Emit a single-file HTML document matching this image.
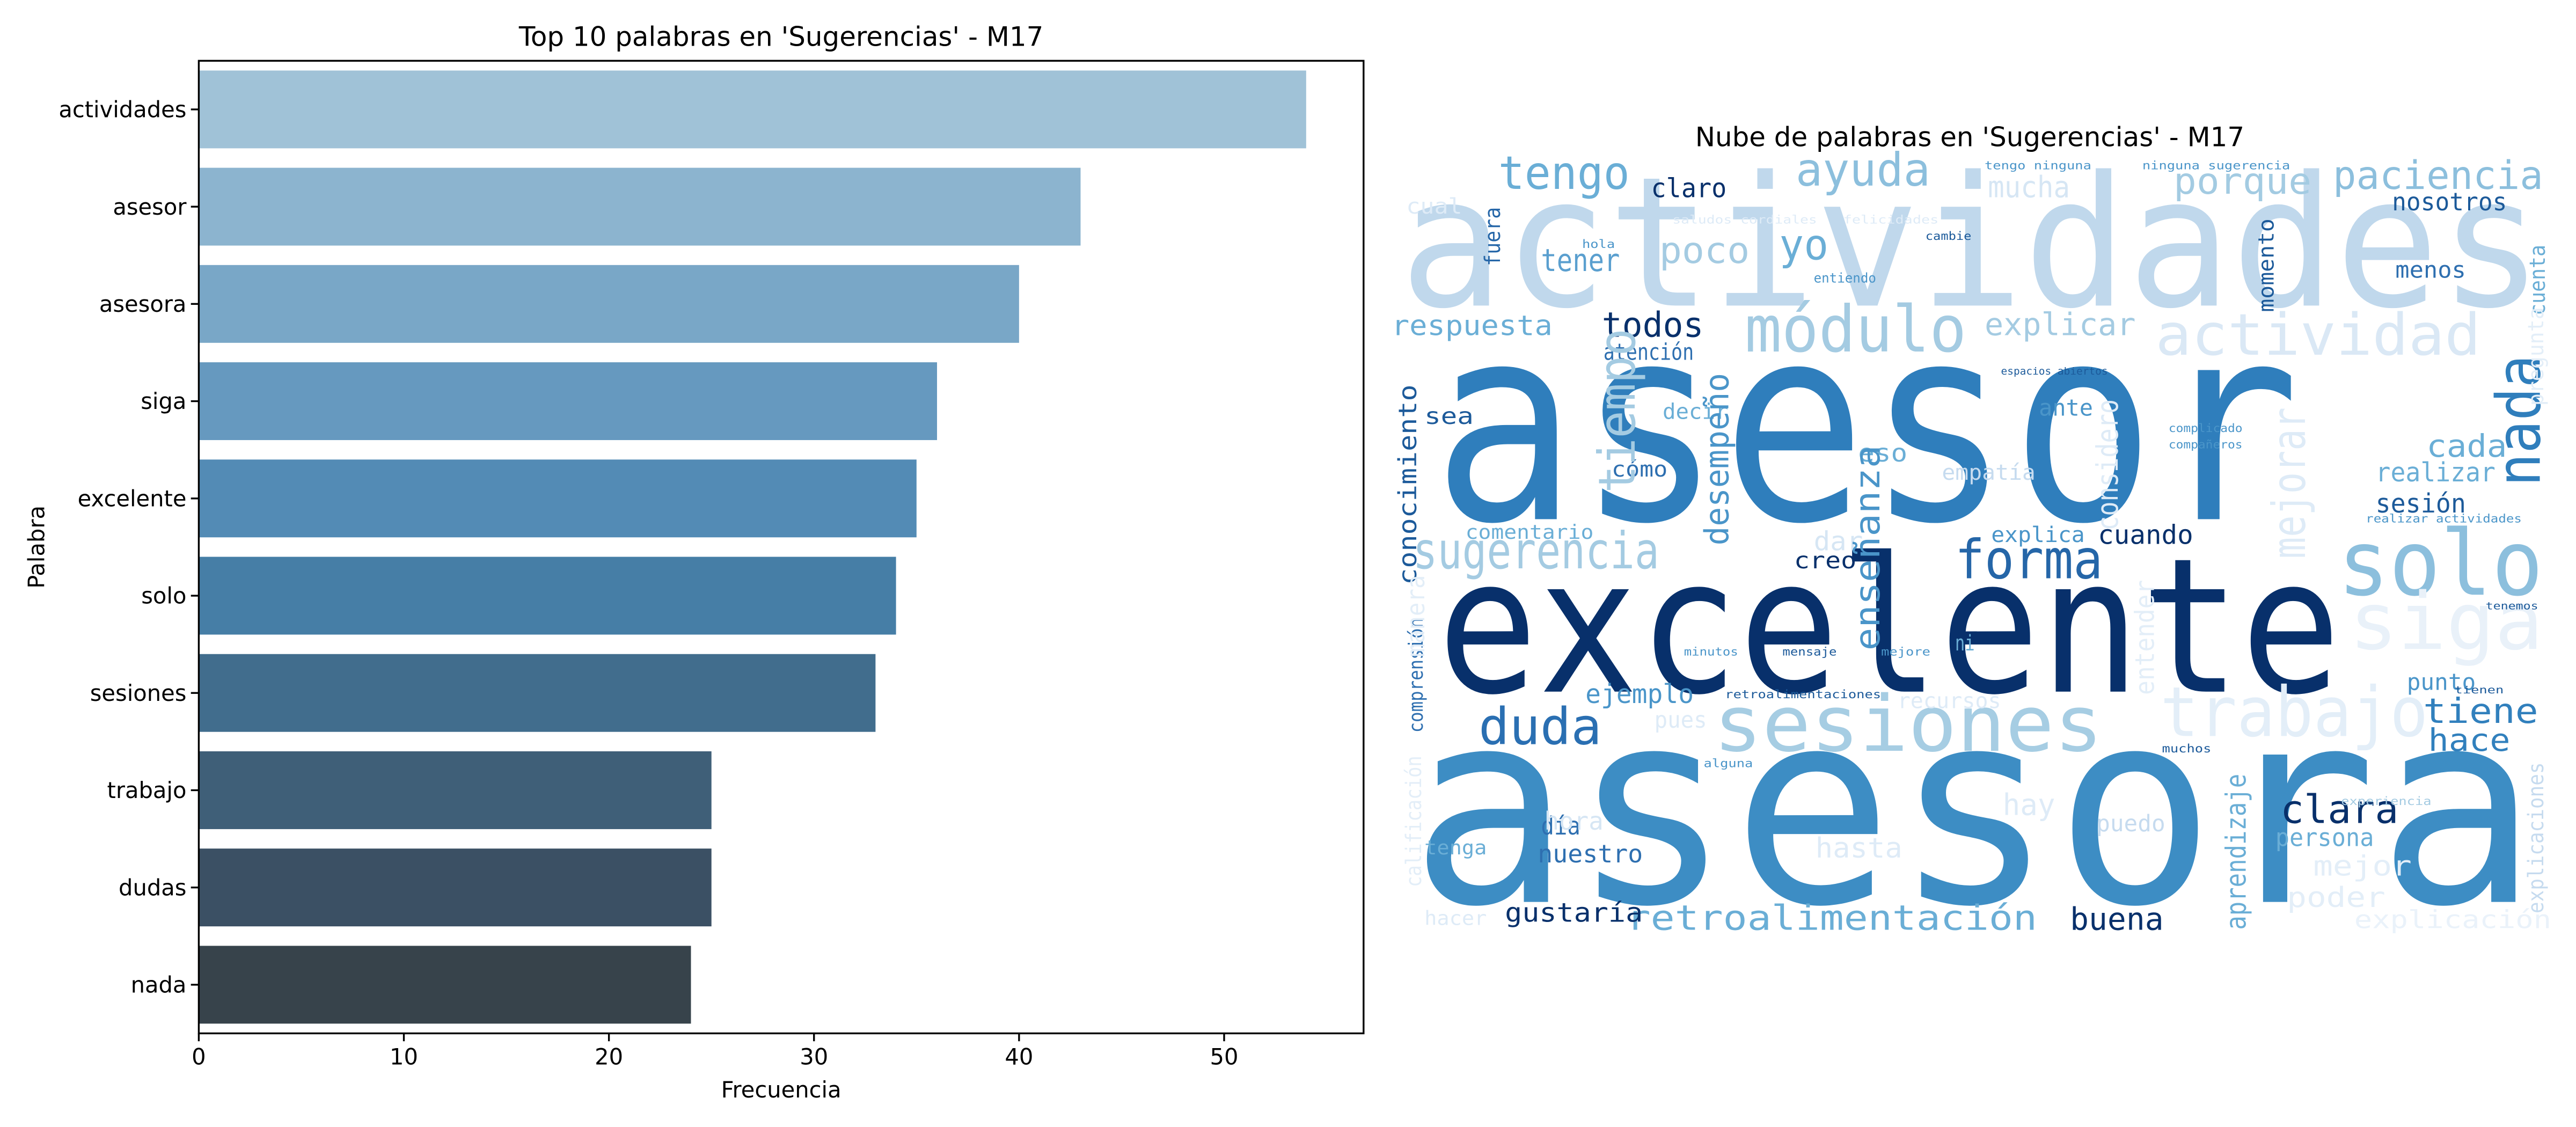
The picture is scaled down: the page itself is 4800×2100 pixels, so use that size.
<!DOCTYPE html>
<html><head><meta charset="utf-8"><style>
html,body{margin:0;padding:0;background:#fff;}
svg{display:block;}
.t{font-family:"DejaVu Sans","Liberation Sans",sans-serif;fill:#000;}
.w{font-family:"DejaVu Sans Mono","Liberation Mono",monospace;}
</style></head><body>
<svg id="fig" width="4800" height="2100" viewBox="0 0 1568 686" xmlns="http://www.w3.org/2000/svg">
<rect width="1568" height="686" fill="#fff"/>
<g id="bar-chart">
<text class="t" x="475.5" y="28" font-size="16.3" text-anchor="middle">Top 10 palabras en 'Sugerencias' - M17</text>
<g id="bars"></g>
<g id="yticks"></g>
<g id="xticks"></g>
<rect x="121" y="37" width="709" height="592" fill="none" stroke="#000" stroke-width="1.1"/>
<text class="t" x="475.5" y="668" font-size="13.6" text-anchor="middle">Frecuencia</text>
<text class="t" transform="translate(27,333) rotate(-90)" font-size="13.6" text-anchor="middle">Palabra</text>
</g>
<g id="cloud">
<text class="t" x="1199" y="89" font-size="16.3" text-anchor="middle">Nube de palabras en 'Sugerencias' - M17</text>
<g class="w" id="words"></g>
</g>
</svg>
<script>
const categories=["actividades","asesor","asesora","siga","excelente","solo","sesiones","trabajo","dudas","nada"];
const values=[54,43,40,36,35,34,33,25,25,24];
const barColors=["#a0c2d7","#8cb4cf","#79a7c7","#6699bf","#538bb5","#467ea6","#416d8d","#3f5f78","#3b5064","#37434b"];
const xTicks=[0,10,20,30,40,50];
const NS="http://www.w3.org/2000/svg";
const L=121,R=830,T=37,B=629,XMAX=56.8;
function xs(v){return L+(R-L)*v/XMAX;}
function band(i){return T+(B-T)/categories.length*i;}
const bw=(B-T)/categories.length;
function mk(tag,attrs,parent){const e=document.createElementNS(NS,tag);for(const k in attrs)e.setAttribute(k,attrs[k]);parent.appendChild(e);return e;}
const gb=document.getElementById('bars'),gy=document.getElementById('yticks'),gx=document.getElementById('xticks');
categories.forEach((c,i)=>{
  const y=band(i)+bw*0.1;
  const r=mk('rect',{x:xs(0),y:y,width:xs(values[i])-xs(0),height:bw*0.8,fill:barColors[i]},gb);
  
  
  const cy=band(i)+bw/2;
  const tk=mk('line',{x1:L-4.8,x2:L,y1:cy,y2:cy,stroke:'#000','stroke-width':1.1},gy);
  
  
  const lb=mk('text',{x:L-7.5,y:cy+4.8,'font-size':13.6,'text-anchor':'end',class:'t'},gy);
  lb.textContent=c;
  
  
});
xTicks.forEach(v=>{
  const x=xs(v);
  const tk=mk('line',{x1:x,x2:x,y1:B,y2:B+4.8,stroke:'#000','stroke-width':1.1},gx);
  
  
  const lb=mk('text',{x:x,y:B+19,'font-size':13.6,'text-anchor':'middle',class:'t'},gx);
  lb.textContent=v;
  
  
});
// word cloud: [text, x, baselineY, fontSize, color, length, vertical]
const words=[
["actividades",852,186,110,"#c0d8ec",696,0],
["asesor",872,316,166,"#2f7ebc",528,0],
["excelente",875,421,114,"#08306b",550,0],
["asesora",858,549,164,"#3d8dc4",687,0],
["solo",1423,362,55,"#8cbfdd",125,0],
["siga",1430,395,48,"#e9f1f9",118,0],
["sesiones",1043,457,47,"#a6cde3",237,0],
["trabajo",1315,448,42,"#e3eef8",163,0],
["módulo",1062,214,39,"#a4cbe2",135,0],
["actividad",1312,216,35,"#dae8f5",198,0],
["ayuda",1093,113,28,"#8cbfdd",82,0],
["tengo",912,115,28,"#6aaed6",80,0],
["paciencia",1420,115,24,"#8cbfdd",128,0],
["porque",1323,118,22,"#a3cbe2",84,0],
["nosotros",1456,128,15,"#1c5a9a",70,0],
["claro",1005,120,16,"#08306b",46,0],
["mucha",1210,120,18,"#d6e6f4",50,0],
["yo",1083,158,26,"#6aaed6",30,0],
["poco",1010,160,22,"#a4cbe2",55,0],
["tener",938,165,19,"#5a9fcf",48,0],
["menos",1458,169,14,"#2e6fb0",43,0],
["sugerencia",860,346,31,"#a4cbe2",150,0],
["forma",1190,352,33,"#2566a8",90,0],
["duda",900,453,31,"#2a6fb2",75,0],
["respuesta",847,204,17,"#6aaed6",98,0],
["todos",975,205,21,"#08306b",62,0],
["atención",976,219,14,"#2e6fb0",55,0],
["explicar",1208,204,19,"#a4cbe2",92,0],
["ejemplo",965,428,16,"#4a95c9",66,0],
["cuando",1277,331,16,"#08306b",58,0],
["explica",1212,330,13,"#4a95c9",57,0],
["retroalimentación",990,566,21,"#6aaed6",250,0],
["gustaría",916,561,16,"#08306b",84,0],
["buena",1260,566,19,"#08306b",57,0],
["clara",1388,501,24,"#08306b",72,0],
["persona",1385,515,15,"#6aaed6",60,0],
["tiene",1475,440,21,"#3180bd",70,0],
["hace",1478,457,19,"#3180bd",50,0],
["nuestro",936,525,15,"#2e6fb0",64,0],
["día",938,508,15,"#2e6fb0",24,0],
["creo",1092,346,14,"#08306b",38,0],
["sea",867,258,14,"#1c5a9a",30,0],
["decir",1012,255,13,"#6aaed6",40,0],
["cómo",981,290,13,"#2e6fb0",34,0],
["comentario",892,328,12,"#6aaed6",78,0],
["eso",1131,281,15,"#6aaed6",30,0],
["cada",1477,278,19,"#6aaed6",49,0],
["realizar",1446,293,16,"#6aaed6",73,0],
["sesión",1446,312,16,"#1c5a9a",55,0],
["ante",1241,253,14,"#4a95c9",33,0],
["dar",1104,335,16,"#d6e6f4",30,0],
["empatía",1182,292,13,"#c6dbef",57,0],
["hora",940,505,15,"#d6e6f4",36,0],
["hay",1219,496,18,"#deebf7",32,0],
["puedo",1276,506,14,"#c6dbef",42,0],
["hasta",1105,522,17,"#deebf7",53,0],
["mejor",1408,533,17,"#e3eef8",60,0],
["poder",1392,552,17,"#e3eef8",60,0],
["explicación",1433,565,15,"#eaf2fa",120,0],
["recursos",1155,431,13,"#deebf7",63,0],
["pues",1007,443,14,"#deebf7",32,0],
["punto",1465,420,14,"#4a95c9",42,0],
["tenga",867,520,12,"#6aaed6",38,0],
["hacer",867,563,12,"#deebf7",38,0],
["cual",856,130,13,"#deebf7",34,0],
["ni",1190,396,13,"#6aaed6",12,0],
["tiempo",995,300,31,"#a4cbe2",100,1],
["desempeño",1052,332,20,"#4a95c9",105,1],
["enseñanza",1144,396,21,"#4a95c9",125,1],
["conocimiento",862,356,15,"#1c5a9a",122,1],
["comprensión",866,446,12,"#2e6fb0",70,1],
["mejorar",1403,340,28,"#deebf7",92,1],
["nada",1546,296,37,"#2f7ebc",80,1],
["considero",1289,323,18,"#deebf7",80,1],
["aprendizaje",1367,566,17,"#6aaed6",95,1],
["entender",1311,423,16,"#e3eef8",70,1],
["momento",1384,190,13,"#1c5a9a",57,1],
["fuera",913,162,13,"#2566a8",36,1],
["cuenta",1549,192,13,"#6aaed6",43,1],
["explicaciones",1548,556,13,"#c6dbef",92,1],
["pregunta",1548,247,13,"#e3eef8",60,1],
["manera",867,400,15,"#e3eef8",50,1],
["calificación",865,540,13,"#e3eef8",80,1],
["saludos cordiales",1018,136,7,"#deebf7",88,0],
["felicidades",1122,136,7,"#deebf7",58,0],
["tengo ninguna",1208,103,7,"#4a95c9",65,0],
["ninguna sugerencia",1304,103,7,"#4a95c9",90,0],
["espacios abiertos",1218,228,6,"#1c5a9a",65,0],
["complicado",1320,263,7,"#4a95c9",45,0],
["compañeros",1320,273,7,"#4a95c9",45,0],
["retroalimentaciones",1050,425,7,"#1c5a9a",95,0],
["realizar actividades",1440,318,7,"#4a95c9",95,0],
["minutos",1025,399,7,"#4a95c9",33,0],
["mensaje",1085,399,7,"#1c5a9a",33,0],
["mejore",1145,399,7,"#4a95c9",30,0],
["entiendo",1104,172,8,"#4a95c9",38,0],
["cambie",1172,146,7,"#1c5a9a",28,0],
["hola",963,151,7,"#4a95c9",20,0],
["alguna",1037,467,7,"#4a95c9",30,0],
["tenemos",1513,371,6,"#1c5a9a",32,0],
["muchos",1316,458,7,"#1c5a9a",30,0],
["tienen",1494,422,6,"#1c5a9a",30,0],
["experiencia",1425,490,7,"#a4cbe2",55,0]
];
const gw=document.getElementById('words');
words.forEach(w=>{
  const [s,x,y,fs,col,len,vert]=w;
  const t=mk('text',{'font-size':fs,fill:col,textLength:len,lengthAdjust:'spacingAndGlyphs'},gw);
  if(vert){t.setAttribute('transform','translate('+x+','+y+') rotate(-90)');}
  else{t.setAttribute('x',x);t.setAttribute('y',y);}
  t.textContent=s;
  
  
});
</script>
</body></html>
